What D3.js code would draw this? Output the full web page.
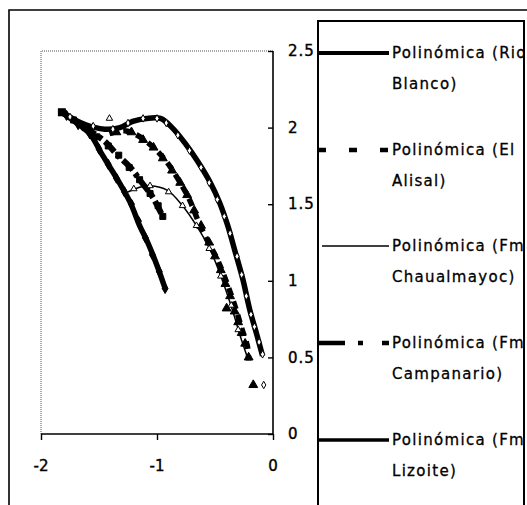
<!DOCTYPE html>
<html><head><meta charset="utf-8">
<script src="https://cdn.jsdelivr.net/npm/d3@7"></script>
<style>body{margin:0;background:#fff;}svg{display:block;}</style>
</head><body>
<svg id="c" width="527" height="505"></svg>
<script>
// ---- data ----
const xTicks = [-2, -1, 0];
const yTicks = [0, 0.5, 1, 1.5, 2, 2.5];
const seriesNames = ["Polinómica (Rio Blanco)", "Polinómica (El Alisal)", "Polinómica (Fm Chaualmayoc)", "Polinómica (Fm Campanario)", "Polinómica (Fm Lizoite)"];
const legendLine1 = ["Polinómica (Rio", "Polinómica (El", "Polinómica (Fm", "Polinómica (Fm", "Polinómica (Fm"];
const legendLine2 = ["Blanco)", "Alisal)", "Chaualmayoc)", "Campanario)", "Lizoite)"];

// trend lines (x, y)
const trendRioBlanco = [[-1.82,2.10],[-1.62,2.02],[-1.45,1.99],[-1.32,2.00],[-1.21,2.04],[-1.09,2.06],[-0.97,2.06],[-0.87,2.00],[-0.76,1.90],[-0.65,1.78],[-0.54,1.64],[-0.46,1.51],[-0.39,1.36],[-0.33,1.20],[-0.26,1.01],[-0.20,0.81],[-0.14,0.65],[-0.09,0.51]];
const trendElAlisal = [[-1.41,1.96],[-1.28,1.98],[-1.17,1.95],[-1.03,1.87],[-0.91,1.77],[-0.80,1.64],[-0.72,1.53],[-0.65,1.40],[-0.57,1.27],[-0.48,1.14],[-0.40,0.99],[-0.33,0.84],[-0.27,0.69],[-0.22,0.57],[-0.21,0.48]];
const trendChaualmayoc = [[-1.25,1.58],[-1.15,1.61],[-1.06,1.62],[-0.91,1.59],[-0.78,1.49],[-0.66,1.36],[-0.54,1.20],[-0.44,1.01],[-0.35,0.81],[-0.27,0.61],[-0.22,0.50]];
const trendCampanario = [[-1.82,2.10],[-1.62,2.00],[-1.45,1.91],[-1.34,1.82],[-1.23,1.74],[-1.13,1.64],[-1.04,1.55],[-0.99,1.48],[-0.95,1.42]];
const trendLizoite = [[-1.82,2.10],[-1.71,2.04],[-1.58,1.96],[-1.47,1.82],[-1.34,1.66],[-1.23,1.51],[-1.15,1.36],[-1.08,1.25],[-1.00,1.10],[-0.93,0.95]];

// observed points
const ptsRioBlanco = [[-1.75,2.07],[-1.55,2.01],[-1.38,1.99],[-1.25,2.03],[-1.12,2.06],[-1.0,2.06],[-0.92,2.03],[-0.82,1.95],[-0.72,1.85],[-0.62,1.74],[-0.55,1.64],[-0.48,1.53],[-0.42,1.42],[-0.37,1.31],[-0.31,1.16],[-0.27,1.04],[-0.23,0.90],[-0.19,0.78],[-0.16,0.70],[-0.12,0.60],[-0.09,0.52],[-0.08,0.32]];
const ptsElAlisal = [[-1.35,1.97],[-1.22,1.97],[-1.12,1.92],[-1.03,1.87],[-0.95,1.80],[-0.87,1.72],[-0.80,1.64],[-0.74,1.56],[-0.68,1.46],[-0.62,1.36],[-0.55,1.25],[-0.50,1.16],[-0.45,1.07],[-0.41,0.98],[-0.37,0.90],[-0.40,0.82],[-0.33,0.80],[-0.30,0.73],[-0.27,0.66],[-0.24,0.59],[-0.21,0.50],[-0.17,0.32]];
const ptsChaualmayoc = [[-1.41,2.06],[-1.2,1.6],[-1.06,1.62],[-0.9,1.58],[-0.78,1.49],[-0.66,1.36],[-0.55,1.21],[-0.45,1.03],[-0.36,0.84],[-0.3,0.68]];
const ptsCampanario = [[-1.82,2.10],[-1.72,2.05],[-1.62,2.0],[-1.52,1.94],[-1.42,1.88],[-1.33,1.82],[-1.24,1.74],[-1.15,1.66],[-1.06,1.57],[-0.99,1.49],[-0.95,1.42]];
const ptsLizoite = [[-1.78,2.08],[-1.68,2.02],[-1.58,1.96],[-1.5,1.86],[-1.42,1.76],[-1.35,1.67],[-1.28,1.58],[-1.22,1.50],[-1.16,1.39],[-1.1,1.28],[-1.04,1.17],[-0.98,1.06],[-0.93,0.95]];

// ---- drawing ----
const svg = d3.select("#c");
const FONT = "'DejaVu Sans', sans-serif";
const x = d3.scaleLinear().domain([-2, 0]).range([41, 273]);
const y = d3.scaleLinear().domain([0, 2.5]).range([434, 51]);

// outer frame
svg.append("path").attr("d", "M9,505 L9,10 L527,10").attr("fill", "none").attr("stroke", "#000").attr("stroke-width", 1.6);
// plot area dotted border (left/top)
svg.append("path").attr("d", `M${x(-2)},${y(0)} L${x(-2)},${y(2.5)} L${x(0)},${y(2.5)}`)
  .attr("fill", "none").attr("stroke", "#555").attr("stroke-width", 1).attr("stroke-dasharray", "1,1");

const plot = svg.append("g");
const line = d3.line().x(d => x(d[0])).y(d => y(d[1])).curve(d3.curveCatmullRom.alpha(0.5));
const styles = [
  {data: trendRioBlanco, w: 5.5, dash: null},
  {data: trendElAlisal, w: 5.5, dash: "8,6"},
  {data: trendChaualmayoc, w: 1.5, dash: null},
  {data: trendCampanario, w: 6, dash: "14,4,4,4"},
  {data: trendLizoite, w: 5.5, dash: null}
];
styles.forEach(s => {
  plot.append("path").attr("d", line(s.data)).attr("fill", "none").attr("stroke", "#000")
    .attr("stroke-width", s.w).attr("stroke-dasharray", s.dash).attr("stroke-linejoin", "round");
});

const sym = (type, size) => d3.symbol().type(type).size(size);
function marks(data, type, size, fill, stroke, sw) {
  plot.selectAll(null).data(data).join("path")
    .attr("transform", d => `translate(${x(d[0])},${y(d[1])})`)
    .attr("d", sym(type, size)).attr("fill", fill).attr("stroke", stroke).attr("stroke-width", sw);
}
marks(ptsLizoite, d3.symbolDiamond, 30, "#000", "#000", 1);
marks(ptsCampanario, d3.symbolSquare, 36, "#000", "#000", 1);
marks(ptsElAlisal, d3.symbolTriangle, 34, "#000", "#000", 1);
marks(ptsChaualmayoc, d3.symbolTriangle, 18, "#fff", "#000", 1);
marks(ptsRioBlanco, d3.symbolDiamond, 16, "#fff", "#000", 1);
// big start square
plot.append("path").attr("transform", `translate(${x(trendLizoite[0][0])},${y(trendLizoite[0][1])})`)
  .attr("d", sym(d3.symbolSquare, 64)()).attr("fill", "#000");

// axes
const yAxis = d3.axisLeft(y).tickValues(yTicks).tickSize(5).tickFormat("");
const ga = svg.append("g").attr("transform", `translate(${x(0)},0)`).call(yAxis);
ga.select(".domain").attr("d", `M0,${y(2.5)}V${y(0)}`).attr("stroke-width", 1.6);
ga.selectAll(".tick line").attr("stroke-width", 1.4);
svg.selectAll(null).data(yTicks).join("text")
  .attr("x", 288).attr("y", d => y(d)).attr("dy", "0.35em")
  .attr("font-family", FONT).attr("font-size", 15).attr("letter-spacing", 1)
  .attr("stroke", "#000").attr("stroke-width", 0.4)
  .text(d => d3.format("")(d));

const xAxis = d3.axisBottom(x).tickValues(xTicks).tickSize(6).tickFormat("");
const gx = svg.append("g").attr("transform", `translate(0,${y(0)})`).call(xAxis);
gx.select(".domain").attr("d", `M${x(-2)},0H${x(0)}`).attr("stroke-width", 1.6);
gx.selectAll(".tick line").attr("stroke-width", 1.4);
svg.selectAll(null).data(xTicks).join("text")
  .attr("x", d => x(d)).attr("y", 466).attr("dy", "0.35em").attr("text-anchor", "middle")
  .attr("font-family", FONT).attr("font-size", 15)
  .attr("stroke", "#000").attr("stroke-width", 0.4)
  .text(d => d3.format("")(d).replace("−", "-"));

// legend
const lg = svg.append("g");
lg.append("defs").append("clipPath").attr("id", "lgclip").append("rect")
  .attr("x", 318).attr("y", 21).attr("width", 205).attr("height", 490);
lg.append("path").attr("d", "M318,505 L318,21 L524,21 L524,505").attr("fill", "none").attr("stroke", "#000").attr("stroke-width", 2);
const legY = [53, 150, 246, 343, 440];
const legStyle = [
  {w: 4, dash: null, x0: 318},
  {w: 4.5, dash: "8,23", x0: 318},
  {w: 1.5, dash: null, x0: 322},
  {w: 4.5, dash: "27,13,5,19,8", x0: 318},
  {w: 3.5, dash: null, x0: 318}
];
const lt = lg.append("g").attr("clip-path", "url(#lgclip)");
seriesNames.forEach((nm, i) => {
  const st = legStyle[i];
  lt.append("line").attr("x1", st.x0).attr("x2", 389).attr("y1", legY[i]).attr("y2", legY[i])
    .attr("stroke", "#000").attr("stroke-width", st.w).attr("stroke-dasharray", st.dash);
  const t = lt.append("text").attr("font-family", FONT).attr("font-size", 15).attr("letter-spacing", 1.3)
    .attr("stroke", "#000").attr("stroke-width", 0.3);
  t.append("tspan").attr("x", 392).attr("y", legY[i]).attr("dy", "0.35em").text(legendLine1[i]);
  t.append("tspan").attr("x", 392).attr("y", legY[i] + 31).attr("dy", "0.35em").text(legendLine2[i]);
});
</script>
</body></html>
